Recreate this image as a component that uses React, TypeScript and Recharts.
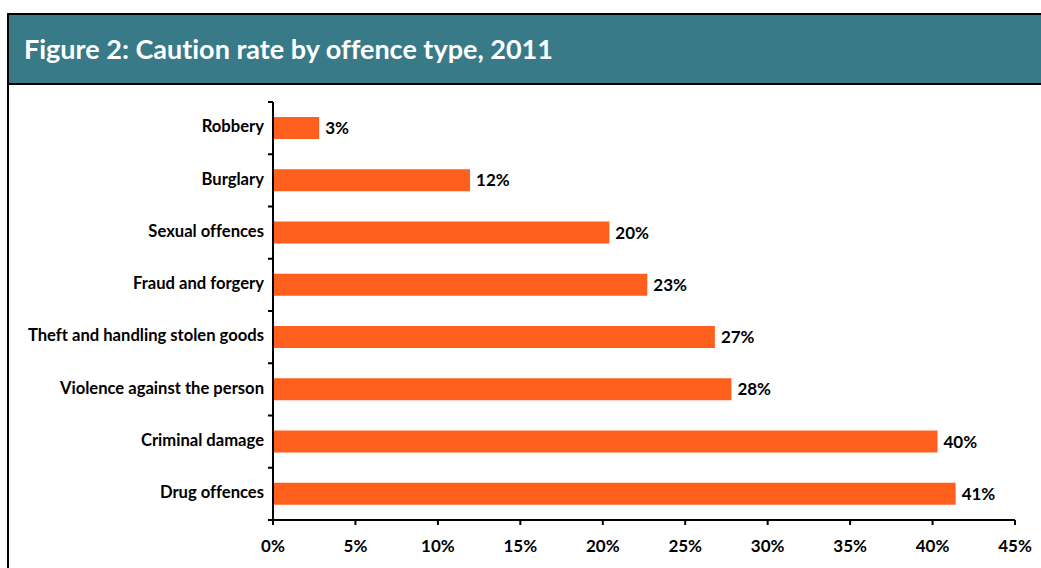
import { Bar, BarChart, LabelList, XAxis, YAxis } from 'recharts';

const CATEGORIES = [
  'Robbery',
  'Burglary',
  'Sexual offences',
  'Fraud and forgery',
  'Theft and handling stolen goods',
  'Violence against the person',
  'Criminal damage',
  'Drug offences',
];
const RATES = [2.8, 11.95, 20.4, 22.7, 26.8, 27.8, 40.3, 41.4];
const X_TICKS = [0, 5, 10, 15, 20, 25, 30, 35, 40, 45];

const COL_BAR = '#FE5F1C';
const COL_HEAD = '#387A87';
const FONT = 'Lato, "Open Sans", sans-serif';

const data = CATEGORIES.map((name, i) => ({ name, rate: RATES[i] }));

const CHART_W = 1041;
const CHART_H = 483;
const MARGIN = { top: 17, right: 26, bottom: 18, left: 0 };
const X_AXIS_H = 30;
const BAND = (CHART_H - MARGIN.top - MARGIN.bottom - X_AXIS_H) / CATEGORIES.length;

// category label plus a tick at the band boundaries (Excel style)
function CatTick(props: any) {
  const { x, y, payload, index } = props;
  const ax = x + 9;
  return (
    <g>
      <line x1={ax - 5} x2={ax} y1={y - BAND / 2} y2={y - BAND / 2} stroke="#000" strokeWidth={2} />
      {index === CATEGORIES.length - 1 && (
        <line x1={ax - 5} x2={ax} y1={y + BAND / 2} y2={y + BAND / 2} stroke="#000" strokeWidth={2} />
      )}
      <text
        x={x}
        y={y}
        dy={0}
        textAnchor="end"
        dominantBaseline="middle"
        fontSize={16.6}
        fontWeight={700}
        fill="#000"
        fontFamily={FONT}
      >
        {payload.value}
      </text>
    </g>
  );
}

export default function App() {
  return (
    <div style={{ position: 'relative', width: 1041, height: 568, background: '#fff', overflow: 'hidden' }}>
      <style>{'body{margin:0} svg text{font-variant-ligatures:none}'}</style>
      <div
        style={{
          position: 'absolute',
          left: 7,
          top: 13,
          width: 1100,
          height: 600,
          borderTop: '2px solid #000',
          borderLeft: '2px solid #000',
        }}
      />
      <div
        style={{
          position: 'absolute',
          left: 9,
          top: 15,
          width: 1100,
          height: 68,
          background: COL_HEAD,
          borderBottom: '2px solid #000',
        }}
      />
      <div
        style={{
          position: 'absolute',
          left: 24,
          top: 15,
          height: 68,
          lineHeight: '68px',
          color: '#fff',
          fontFamily: FONT,
          fontWeight: 700,
          fontSize: 27,
          fontVariantLigatures: 'none',
        }}
      >
        Figure 2: Caution rate by offence type, 2011
      </div>
      <div style={{ position: 'absolute', left: 0, top: 85 }}>
        <BarChart
          width={CHART_W}
          height={CHART_H}
          data={data}
          layout="vertical"
          margin={MARGIN}
          barSize={22}
        >
          <XAxis
            type="number"
            domain={[0, 45]}
            ticks={X_TICKS}
            interval={0}
            tickFormatter={(v: number) => `${v}%`}
            height={X_AXIS_H}
            axisLine={{ stroke: '#000', strokeWidth: 2 }}
            tickLine={{ stroke: '#000', strokeWidth: 2 }}
            tickSize={5}
            tickMargin={15}
            tick={{ fontSize: 17, fontWeight: 700, fill: '#000', fontFamily: FONT }}
          />
          <YAxis
            type="category"
            dataKey="name"
            width={273}
            interval={0}
            axisLine={{ stroke: '#000', strokeWidth: 2 }}
            tickLine={false}
            tickSize={0}
            tickMargin={9}
            tick={<CatTick />}
          />
          <Bar dataKey="rate" fill={COL_BAR} isAnimationActive={false}>
            <LabelList
              dataKey="rate"
              position="right"
              offset={6}
              formatter={(v: any) => `${Math.round(Number(v))}%`}
              style={{ fontSize: 17, fontWeight: 700, fill: '#000', fontFamily: FONT }}
            />
          </Bar>
        </BarChart>
      </div>
    </div>
  );
}
